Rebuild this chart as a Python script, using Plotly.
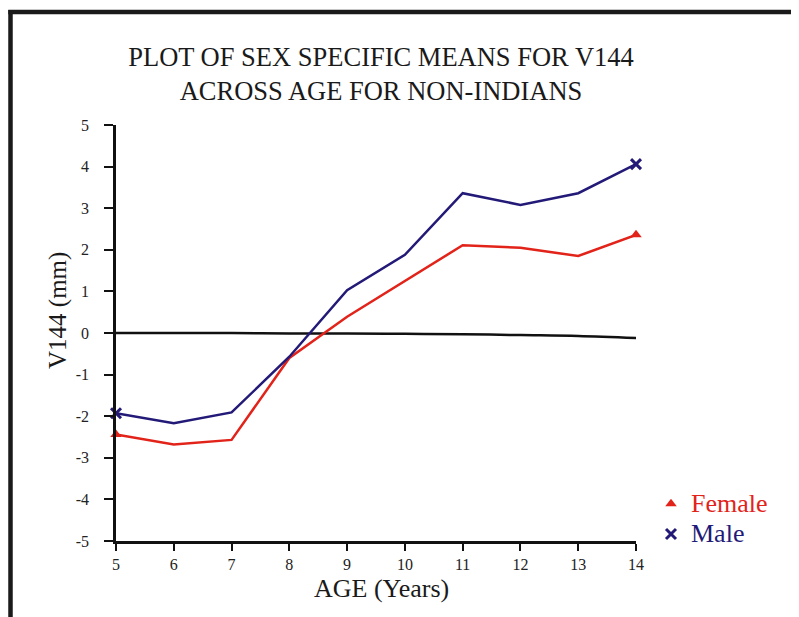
import plotly.graph_objects as go

ages = [5, 6, 7, 8, 9, 10, 11, 12, 13, 14]
female = [-2.44, -2.68, -2.57, -0.60, 0.39, 1.25, 2.11, 2.05, 1.85, 2.36]
male = [-1.93, -2.17, -1.91, -0.57, 1.03, 1.88, 3.36, 3.08, 3.36, 4.06]
reference = [0.0, 0.0, 0.0, -0.01, -0.01, -0.02, -0.03, -0.05, -0.07, -0.12]
y_ticks = [-5, -4, -3, -2, -1, 0, 1, 2, 3, 4, 5]
y_labels = [str(v) for v in y_ticks]

RED = "#e2231a"
NAVY = "#231a78"
FONT = "Liberation Serif, Times New Roman, serif"

# figure is drawn inside the page body which has an 8px margin
W, H = 791, 609
L, R, T, B = 108, 163, 117, 76
PW, PH = W - L - R, H - T - B  # 520 x 416, plot area at page (116..636, 125..541)


def px_x(page_x):
    return (page_x - 116) / PW


def px_y(page_y):
    return (541 - page_y) / PH


fig = go.Figure()

fig.add_trace(go.Scatter(x=ages, y=reference, mode="lines",
                         line=dict(color="#111111", width=2.5, shape="spline"),
                         showlegend=False, hoverinfo="skip", cliponaxis=False))
fig.add_trace(go.Scatter(x=ages, y=female, mode="lines",
                         line=dict(color=RED, width=2.5), showlegend=False,
                         cliponaxis=False))
fig.add_trace(go.Scatter(x=ages, y=male, mode="lines",
                         line=dict(color=NAVY, width=2.5), showlegend=False,
                         cliponaxis=False))

end_idx = [0, len(ages) - 1]
fig.add_trace(go.Scatter(x=[ages[i] for i in end_idx], y=[female[i] for i in end_idx],
                         mode="markers", cliponaxis=False,
                         marker=dict(symbol="triangle-up", size=10, color=RED),
                         name=f"<span style='color:{RED};font-size:26px'>Female</span>"))
fig.add_trace(go.Scatter(x=[ages[i] for i in end_idx], y=[male[i] for i in end_idx],
                         mode="markers", cliponaxis=False,
                         marker=dict(symbol="x-thin", size=10, color=NAVY,
                                     line=dict(color=NAVY, width=3)),
                         name=f"<span style='color:{NAVY};font-size:26px'>Male</span>"))

# border lines (left and top)
fig.add_shape(type="line", xref="paper", yref="paper",
              x0=px_x(10.5), x1=px_x(10.5), y0=px_y(10), y1=px_y(660),
              line=dict(color="#1a1a1a", width=4.5))
fig.add_shape(type="line", xref="paper", yref="paper",
              x0=px_x(8.3), x1=px_x(830), y0=px_y(12), y1=px_y(12),
              line=dict(color="#1a1a1a", width=4.5))

# axis titles
fig.add_annotation(text="V144 (mm)", xref="paper", yref="paper",
                   x=px_x(58), y=px_y(311), xanchor="center", yanchor="middle",
                   textangle=-90, showarrow=False,
                   font=dict(family=FONT, size=25, color="#1a1a1a"))
fig.add_annotation(text="AGE (Years)", xref="paper", yref="paper",
                   x=px_x(381), y=px_y(588), xanchor="center", yanchor="middle",
                   showarrow=False,
                   font=dict(family=FONT, size=26, color="#1a1a1a"))

fig.update_layout(
    width=W, height=H,
    margin=dict(l=L, r=R, t=T, b=B),
    paper_bgcolor="white", plot_bgcolor="white",
    font=dict(family=FONT, color="#222222"),
    title=dict(text="PLOT OF SEX SPECIFIC MEANS FOR V144<br>ACROSS AGE FOR NON-INDIANS",
               font=dict(family=FONT, size=26.5, color="#1a1a1a"),
               x=(381 - 8) / W, xanchor="center",
               y=1 - (66 - 8) / H, yanchor="middle"),
    xaxis=dict(range=[5, 14], tickmode="array", tickvals=ages,
               showgrid=False, zeroline=False, showline=True,
               linecolor="#111111", linewidth=3,
               ticks="outside", ticklen=7, tickwidth=1.5, tickcolor="#111111",
               tickfont=dict(family=FONT, size=16, color="#222222")),
    yaxis=dict(range=[-5, 5], tickmode="array", tickvals=y_ticks, ticktext=y_labels,
               showgrid=False, zeroline=False, showline=True,
               linecolor="#111111", linewidth=2.5,
               ticks="outside", ticklen=9, tickwidth=2, tickcolor="#111111",
               ticklabelstandoff=12,
               tickfont=dict(family=FONT, size=16, color="#222222")),
    legend=dict(x=px_x(651), y=px_y(519), xanchor="left", yanchor="middle",
                font=dict(family=FONT, size=21), bgcolor="rgba(0,0,0,0)",
                itemwidth=30, tracegroupgap=0),
)

fig.write_html("out.html")
